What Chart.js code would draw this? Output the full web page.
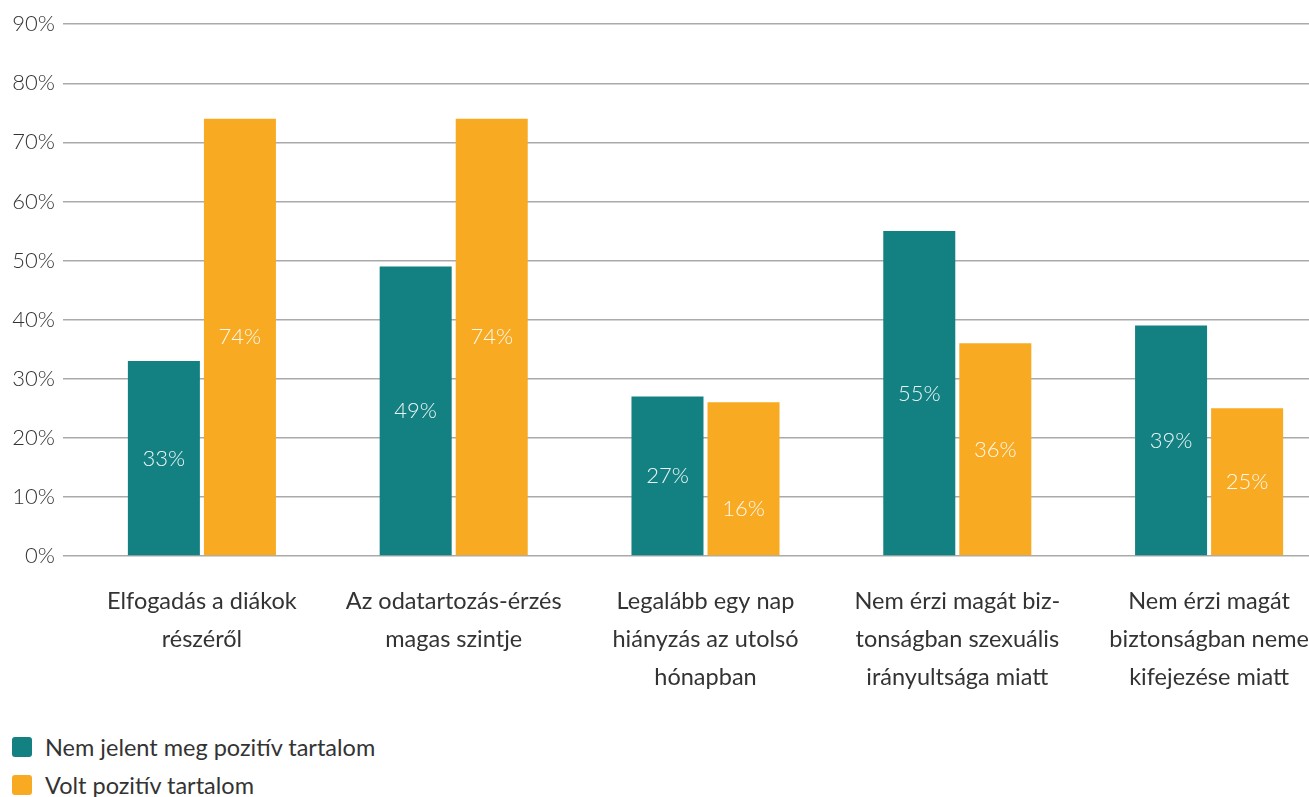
<!DOCTYPE html>
<html>
<head>
<meta charset="utf-8">
<script src="https://cdn.jsdelivr.net/npm/chart.js@4"></script>
<style>
  html, body { margin: 0; padding: 0; background: #fff; overflow: hidden; width: 1309px; height: 797px; }
  #wrap { position: absolute; left: 0; top: 3px; width: 1335px; height: 723px; }
  #legend { position: absolute; left: 12px; top: 728px; font-family: 'Lato', sans-serif; font-weight: 400; font-size: 23.5px; color: #333; }
  .item { display: flex; align-items: center; height: 38px; }
  .box { width: 20px; height: 20px; border-radius: 3px; margin-right: 13px; }
</style>
</head>
<body>
<div id="wrap"><canvas id="c"></canvas></div>
<div id="legend"></div>
<script>
const categories = [
  ['Elfogadás a diákok', 'részéről'],
  ['Az odatartozás-érzés', 'magas szintje'],
  ['Legalább egy nap', 'hiányzás az utolsó', 'hónapban'],
  ['Nem érzi magát biz-', 'tonságban szexuális', 'irányultsága miatt'],
  ['Nem érzi magát', 'biztonságban neme', 'kifejezése miatt']
];
const seriesNames = ['Nem jelent meg pozitív tartalom', 'Volt pozitív tartalom'];
const noContent = [33, 49, 27, 55, 39];
const withContent = [74, 74, 26, 36, 25];
// printed labels (the third orange label reads 16% in the source)
const noContentLabels = [33, 49, 27, 55, 39];
const withContentLabels = [74, 74, 16, 36, 25];
const yTicks = [0, 10, 20, 30, 40, 50, 60, 70, 80, 90];

const colors = ['#138082', '#f7aa22'];
const font = "'Lato', sans-serif";

const barLabels = {
  id: 'barLabels',
  afterDatasetsDraw(chart) {
    const { ctx, scales: { y } } = chart;
    const labelSets = [noContentLabels, withContentLabels];
    ctx.save();
    ctx.font = '300 22px ' + font;
    ctx.fillStyle = 'rgba(255,255,255,0.92)';
    ctx.textAlign = 'center';
    ctx.textBaseline = 'middle';
    chart.data.datasets.forEach((ds, i) => {
      chart.getDatasetMeta(i).data.forEach((bar, j) => {
        const v = labelSets[i][j];
        ctx.fillText(v + '%', bar.x, y.getPixelForValue(v / 2));
      });
    });
    ctx.restore();
  }
};

new Chart(document.getElementById('c'), {
  type: 'bar',
  data: {
    labels: categories,
    datasets: [{
      label: seriesNames[0],
      data: noContent,
      backgroundColor: colors[0]
    }, {
      label: seriesNames[1],
      data: withContent,
      backgroundColor: colors[1]
    }]
  },
  options: {
    responsive: true,
    maintainAspectRatio: false,
    animation: false,
    categoryPercentage: 0.604,
    barPercentage: 0.947,
    layout: { padding: { top: 15, right: 0 } },
    scales: {
      y: {
        min: 0,
        max: 90,
        afterFit(scale) { scale.width = 76; },
        afterBuildTicks(scale) { scale.ticks = yTicks.map(v => ({ value: v })); },
        border: { display: false },
        grid: { color: '#aaaaaa', lineWidth: 1.5, tickLength: 13 },
        ticks: {
          padding: 8,
          color: '#333',
          font: { family: font, size: 22, weight: 300 },
          callback: v => v + '%'
        }
      },
      x: {
        afterFit(scale) { scale.height = 170; },
        grid: { display: false },
        border: { display: false },
        ticks: {
          padding: 18,
          color: '#333',
          maxRotation: 0,
          autoSkip: false,
          font: { family: font, size: 23.5, weight: 400, lineHeight: 1.617 }
        }
      }
    },
    plugins: {
      legend: { display: false },
      tooltip: { enabled: false }
    }
  },
  plugins: [barLabels]
});

const legend = document.getElementById('legend');
seriesNames.forEach((name, i) => {
  const row = document.createElement('div');
  row.className = 'item';
  row.innerHTML = '<span class="box" style="background:' + colors[i] + '"></span><span>' + name + '</span>';
  legend.appendChild(row);
});
</script>
</body>
</html>
